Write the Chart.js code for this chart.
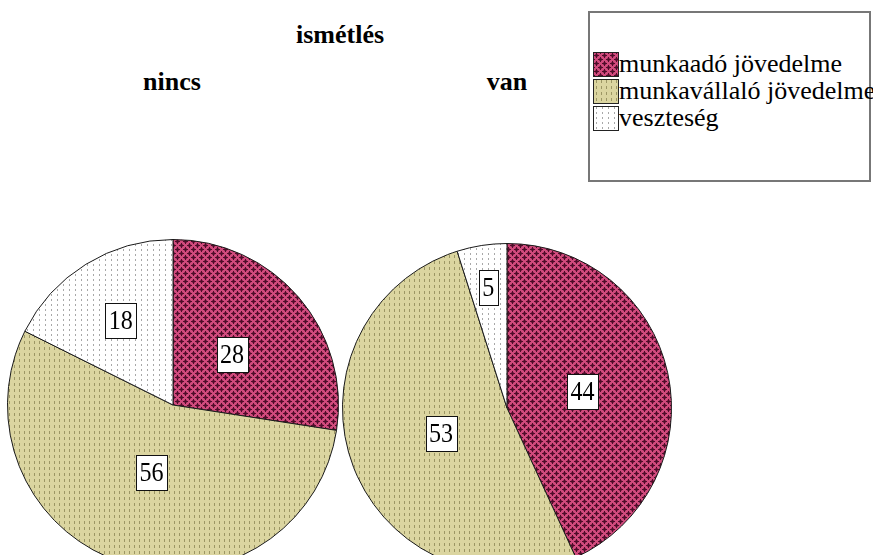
<!DOCTYPE html>
<html>
<head>
<meta charset="utf-8">
<script src="https://cdn.jsdelivr.net/npm/chart.js@4/dist/chart.umd.min.js"></script>
<style>
  html, body { margin: 0; padding: 0; background: #fff; overflow: hidden; }
  body { width: 873px; height: 555px; position: relative; }
  .serif { font-family: 'Liberation Serif', 'Times New Roman', serif; }
  .title { position: absolute; font-weight: bold; font-size: 26px; line-height: 26px; transform: translateX(-50%); white-space: nowrap; }
  #legend { position: absolute; left: 588px; top: 11px; width: 283px; height: 171px; border: 2px solid #777; box-sizing: border-box; }
  .item { position: absolute; left: 3px; height: 24px; font-size: 26px; line-height: 24px; white-space: nowrap; }
  .item canvas { position: absolute; left: 0; top: 0; border: 1px solid #222; box-sizing: border-box; }
  .item span { position: absolute; left: 26px; top: 0; }
  .pie { position: absolute; }
</style>
</head>
<body>
<div class="title serif" id="heading" style="left:340px; top:22px;"></div>
<div class="title serif" id="group0" style="left:172px; top:69px;"></div>
<div class="title serif" id="group1" style="left:507px; top:69px;"></div>
<div id="legend" class="serif"></div>
<canvas id="pie0" class="pie" width="332" height="332" style="left:7px; top:239px;"></canvas>
<canvas id="pie1" class="pie" width="330" height="330" style="left:342px; top:243px;"></canvas>
<script>
const heading = 'ismétlés';
const groups = ['nincs', 'van'];
const categories = ['munkaadó jövedelme', 'munkavállaló jövedelme', 'veszteség'];
const nincsValues = [28, 56, 18];
const vanValues = [44, 53, 5];

const LABEL_FONT = "28px 'Liberation Serif', 'Times New Roman', serif";

// fill patterns like the old SPSS output
function makePattern(kind) {
  const c = document.createElement('canvas');
  const g = c.getContext('2d');
  if (kind === 'cross') {
    c.width = 8; c.height = 8;
    g.fillStyle = '#d04a7c';
    g.fillRect(0, 0, 8, 8);
    g.fillStyle = '#8c2452';
    g.fillRect(1, 1, 3, 3); g.fillRect(5, 5, 3, 3);
    g.fillStyle = '#4e0d28';
    g.fillRect(0, 2, 5, 1); g.fillRect(2, 0, 1, 5);
    g.fillRect(4, 6, 4, 1); g.fillRect(6, 4, 1, 4);
    g.fillRect(0, 6, 1, 1); g.fillRect(6, 0, 1, 1);
  } else if (kind === 'dash') {
    c.width = 5; c.height = 6;
    g.fillStyle = '#dbd5a0';
    g.fillRect(0, 0, 5, 6);
    g.fillStyle = '#9c9664';
    g.fillRect(2, 0, 1, 3);
  } else {
    c.width = 6; c.height = 5;
    g.fillStyle = '#ffffff';
    g.fillRect(0, 0, 6, 5);
    g.fillStyle = '#a8a8a8';
    g.fillRect(2, 0, 1, 2);
  }
  return c;
}

const tiles = [makePattern('cross'), makePattern('dash'), makePattern('dot')];

const boxLabels = {
  id: 'boxLabels',
  afterDatasetsDraw(chart) {
    const ctx = chart.ctx;
    const data = chart.data.datasets[0].data;
    const total = data.reduce((a, b) => a + b, 0);
    chart.getDatasetMeta(0).data.forEach((arc, i) => {
      const p = arc.getProps(['x', 'y', 'startAngle', 'endAngle', 'outerRadius']);
      const share = data[i] / total;
      // small slices get their label pushed out towards the rim
      const f = share < 0.1 ? 0.74 : (share < 0.2 ? 0.6 : (share > 0.5 ? 0.43 : 0.47));
      const mid = (p.startAngle + p.endAngle) / 2;
      const cx = p.x + Math.cos(mid) * p.outerRadius * f;
      const cy = p.y + Math.sin(mid) * p.outerRadius * f;
      const txt = String(data[i]);
      ctx.save();
      ctx.font = LABEL_FONT;
      const w = Math.round(ctx.measureText(txt).width * 0.86 + 7);
      const h = 35;
      const bx = Math.round(cx - w / 2) + 0.5;
      const by = Math.round(cy - h / 2) + 0.5;
      ctx.fillStyle = '#fff';
      ctx.strokeStyle = '#111';
      ctx.lineWidth = 1;
      ctx.fillRect(bx, by, w, h);
      ctx.strokeRect(bx, by, w, h);
      ctx.translate(cx, cy + 1);
      ctx.scale(0.86, 1);
      ctx.fillStyle = '#000';
      ctx.textAlign = 'center';
      ctx.textBaseline = 'middle';
      ctx.fillText(txt, 0, 0);
      ctx.restore();
    });
  }
};

function pieChart(id, values) {
  const el = document.getElementById(id);
  const g = el.getContext('2d');
  return new Chart(el, {
    type: 'pie',
    data: {
      labels: categories,
      datasets: [{
        data: values,
        backgroundColor: tiles.map(t => g.createPattern(t, 'repeat')),
        borderColor: '#1a1a1a',
        borderWidth: 1,
        hoverOffset: 0,
      }],
    },
    options: {
      responsive: false,
      animation: false,
      events: [],
      layout: { padding: 0 },
      plugins: {
        legend: { display: false },
        tooltip: { enabled: false },
      },
    },
    plugins: [boxLabels],
  });
}

function build() {
  document.getElementById('heading').textContent = heading;
  document.getElementById('group0').textContent = groups[0];
  document.getElementById('group1').textContent = groups[1];

  const legend = document.getElementById('legend');
  categories.forEach((name, i) => {
    const row = document.createElement('div');
    row.className = 'item';
    row.style.top = (39 + i * 27) + 'px';
    const sw = document.createElement('canvas');
    sw.width = 24; sw.height = 23;
    const g = sw.getContext('2d');
    g.fillStyle = g.createPattern(tiles[i], 'repeat');
    g.fillRect(0, 0, 24, 23);
    const label = document.createElement('span');
    label.textContent = name;
    row.appendChild(sw);
    row.appendChild(label);
    legend.appendChild(row);
  });

  pieChart('pie0', nincsValues);
  pieChart('pie1', vanValues);
}

Promise.all([
  document.fonts.load(LABEL_FONT, '0123456789'),
  document.fonts.load("bold 26px 'Liberation Serif'", 'nincs'),
]).then(build, build);
</script>
</body>
</html>
